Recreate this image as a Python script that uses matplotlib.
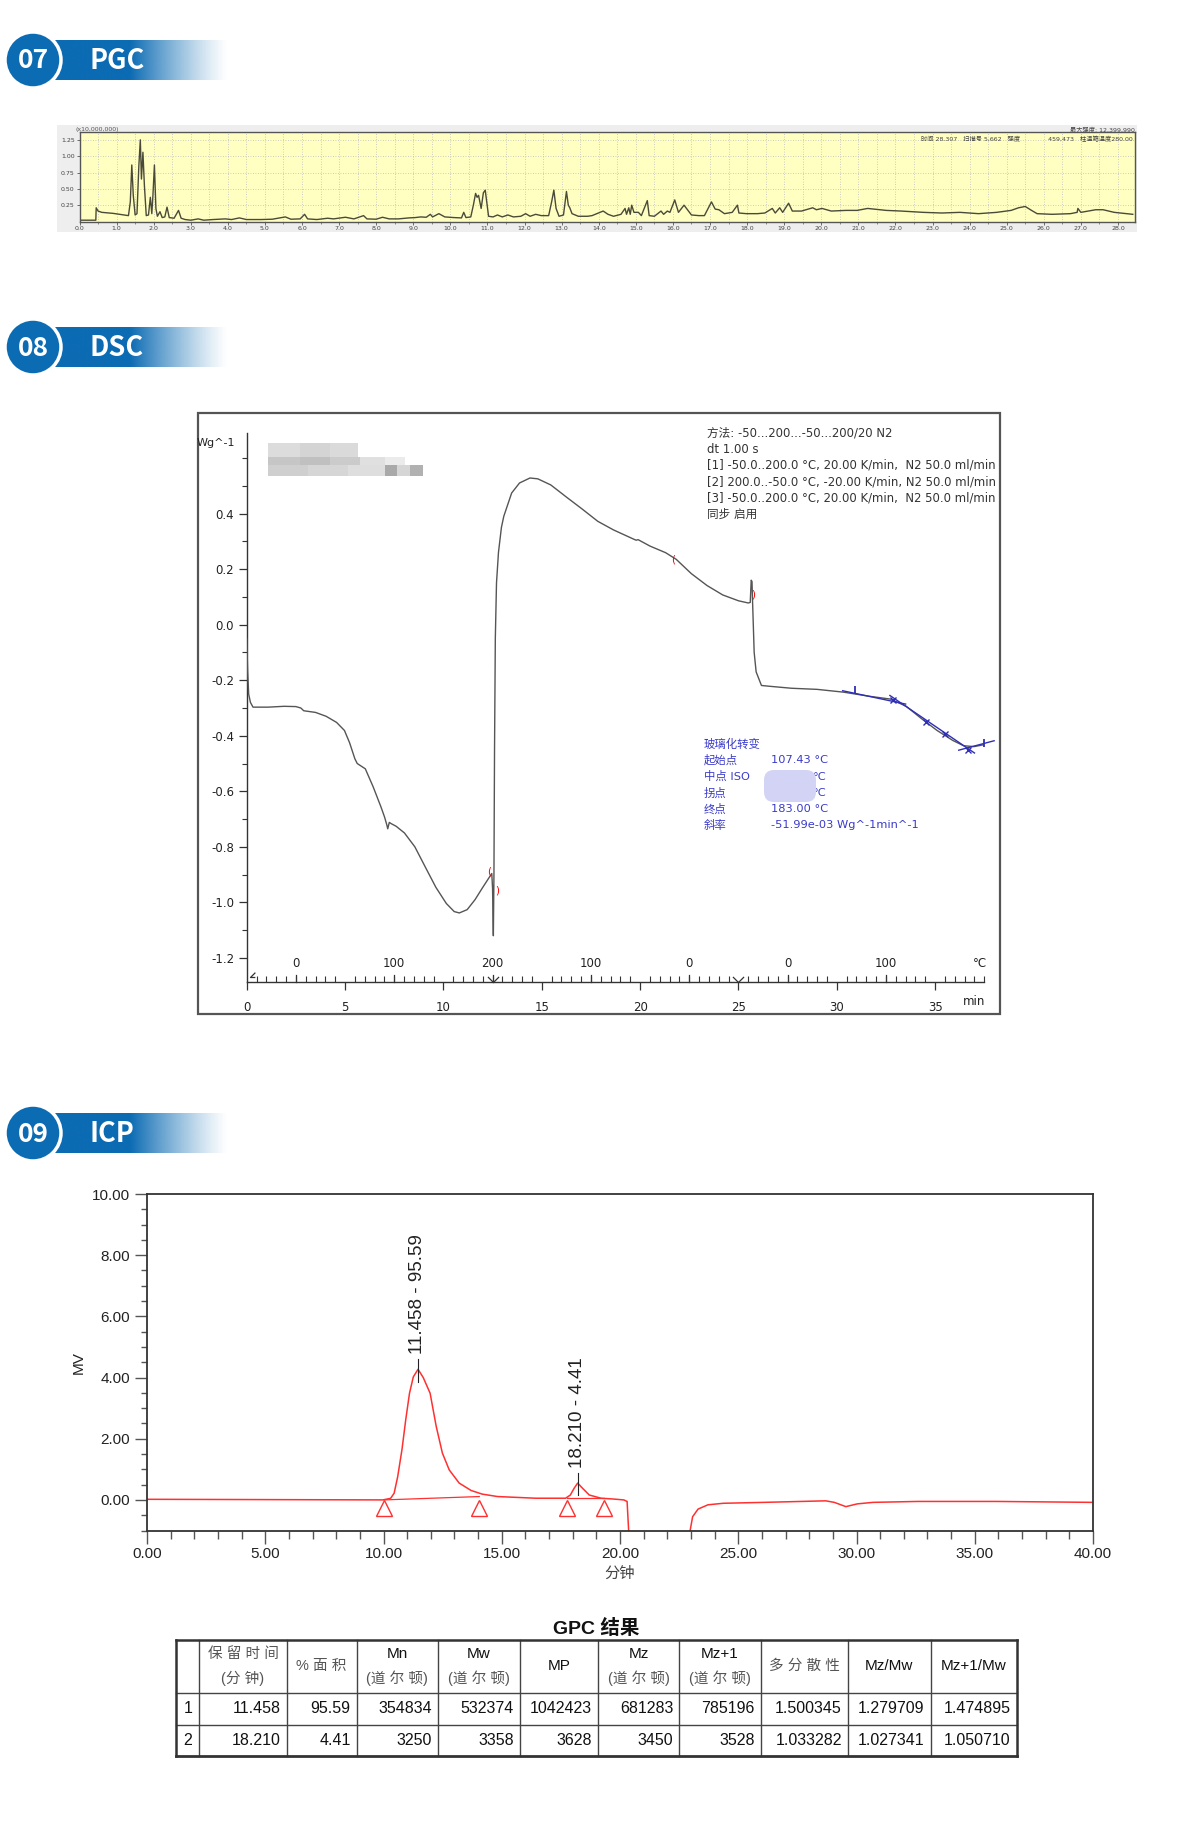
import numpy as np
import matplotlib
matplotlib.use('Agg')
import matplotlib.pyplot as plt
from matplotlib.patches import Rectangle, Circle, FancyBboxPatch
from matplotlib.path import Path
import matplotlib.transforms as mtrans

# ---------------- DATA ----------------
# PGC chromatogram (time min, intensity x10,000,000)
pgc_t = [0.00, 0.44, 0.45, 0.50, 0.60, 0.90, 1.20, 1.32,
         1.37, 1.41, 1.45, 1.50, 1.55, 1.60, 1.64, 1.67, 1.71, 1.75, 1.80, 1.86, 1.91, 1.95, 1.98, 2.02,
         2.06, 2.10, 2.17, 2.23, 2.30, 2.36, 2.42, 2.55, 2.67, 2.74, 2.85, 3.00, 3.20, 3.35, 3.60, 3.93,
         4.10, 4.31, 4.50, 4.90, 5.20, 5.55, 5.70, 5.95, 6.07, 6.15, 6.40, 6.69, 6.85, 7.17, 7.40, 7.66,
         7.75, 8.00, 8.17, 8.35, 8.60, 8.88, 9.05, 9.20, 9.35, 9.46, 9.52, 9.69, 9.85, 10.10, 10.30, 10.36,
         10.42, 10.55, 10.62, 10.68, 10.72, 10.76, 10.83, 10.89, 10.94, 10.98, 11.03, 11.15, 11.27, 11.40,
         11.55, 11.70, 11.90, 12.03, 12.15, 12.30, 12.45, 12.65, 12.73, 12.79, 12.85, 12.93, 13.05, 13.13,
         13.18, 13.22, 13.28, 13.45, 13.70, 13.82, 14.12, 14.25, 14.40, 14.60, 14.71, 14.75, 14.81, 14.85,
         14.89, 14.95, 15.07, 15.15, 15.31, 15.36, 15.50, 15.68, 15.75, 15.85, 15.92, 16.05, 16.15, 16.30,
         16.50, 16.70, 16.85, 17.04, 17.14, 17.24, 17.39, 17.60, 17.74, 17.78, 17.98, 18.28, 18.48, 18.68,
         18.76, 18.88, 18.96, 19.12, 19.22, 19.47, 19.77, 19.87, 20.02, 20.27, 20.67, 20.97, 21.25, 21.75,
         22.15, 22.75, 23.25, 23.74, 24.24, 24.73, 25.12, 25.32, 25.50, 25.67, 25.82, 26.22, 26.72, 26.90,
         26.92, 27.00, 27.40, 27.60, 27.90, 28.40]
pgc_v = [0.02, 0.02, 0.21, 0.16, 0.14, 0.125, 0.10, 0.09,
         0.30, 0.865, 0.40, 0.10, 0.12, 0.85, 1.25, 0.65, 1.06, 0.55, 0.09, 0.10, 0.37, 0.12, 0.40, 0.865,
         0.20, 0.08, 0.15, 0.06, 0.07, 0.22, 0.06, 0.05, 0.17, 0.05, 0.03, 0.02, 0.04, 0.02, 0.03, 0.04,
         0.03, 0.055, 0.03, 0.03, 0.035, 0.07, 0.035, 0.04, 0.11, 0.04, 0.03, 0.05, 0.04, 0.065, 0.04, 0.09,
         0.04, 0.035, 0.065, 0.04, 0.04, 0.055, 0.06, 0.07, 0.065, 0.11, 0.07, 0.12, 0.07, 0.06, 0.055, 0.14,
         0.06, 0.07, 0.25, 0.43, 0.37, 0.40, 0.20, 0.44, 0.48, 0.30, 0.08, 0.07, 0.10, 0.07,
         0.10, 0.07, 0.08, 0.12, 0.08, 0.11, 0.09, 0.09, 0.30, 0.48, 0.20, 0.08, 0.10, 0.46,
         0.25, 0.21, 0.12, 0.08, 0.08, 0.09, 0.16, 0.11, 0.08, 0.11, 0.20, 0.11, 0.21, 0.11,
         0.25, 0.14, 0.14, 0.09, 0.32, 0.09, 0.08, 0.16, 0.11, 0.16, 0.14, 0.33, 0.14, 0.25,
         0.10, 0.09, 0.09, 0.30, 0.19, 0.18, 0.12, 0.14, 0.25, 0.13, 0.12, 0.12, 0.13, 0.20,
         0.13, 0.21, 0.14, 0.28, 0.16, 0.16, 0.21, 0.18, 0.20, 0.16, 0.17, 0.17, 0.20, 0.17,
         0.16, 0.14, 0.13, 0.14, 0.12, 0.14, 0.17, 0.21, 0.23, 0.17, 0.12, 0.11, 0.12, 0.14,
         0.20, 0.14, 0.18, 0.18, 0.14, 0.11]
pgc_yticks = [0.25, 0.50, 0.75, 1.00, 1.25]

# DSC curve (time min, heat flow Wg^-1)
dsc_t = [0.00, 0.05, 0.10, 0.19, 0.32, 1.10, 1.90, 2.50, 2.75, 2.90, 3.50, 4.04, 4.57, 4.97, 5.23, 5.50,
         5.62, 6.03, 6.43, 6.83, 7.01, 7.12, 7.17, 7.25, 7.36, 7.60, 8.02, 8.55, 9.09, 9.62, 10.15, 10.55,
         10.81, 11.21, 11.61, 12.00, 12.33, 12.46, 12.50, 12.54, 12.57, 12.60, 12.64, 12.70, 12.80, 12.95,
         13.07, 13.47, 13.87, 14.40, 14.80, 15.46, 16.26, 17.06, 17.85, 18.65, 19.70, 19.80, 19.90, 20.50,
         21.30, 21.84, 22.60, 23.40, 24.20, 25.00, 25.50, 25.60, 25.65, 25.69, 25.72, 25.80, 25.90, 26.17,
         26.60, 27.70, 29.00, 30.34, 31.67, 32.73, 33.53, 34.30, 35.10, 35.90, 36.45, 36.98, 37.50]
dsc_v = [-0.05, -0.17, -0.25, -0.28, -0.297, -0.297, -0.294, -0.295, -0.30, -0.31, -0.316, -0.33, -0.352,
         -0.381, -0.425, -0.483, -0.50, -0.519, -0.584, -0.657, -0.693, -0.72, -0.735, -0.712, -0.717,
         -0.726, -0.75, -0.80, -0.874, -0.946, -1.004, -1.033, -1.038, -1.026, -0.99, -0.946, -0.91,
         -0.896, -0.95, -1.12, -0.90, -0.45, -0.05, 0.15, 0.26, 0.35, 0.39, 0.474, 0.51, 0.528, 0.525,
         0.503, 0.459, 0.416, 0.372, 0.341, 0.307, 0.304, 0.306, 0.283, 0.259, 0.235, 0.184, 0.141, 0.107,
         0.086, 0.078, 0.08, 0.16, 0.155, 0.08, -0.10, -0.17, -0.219, -0.222, -0.229, -0.233, -0.243,
         -0.258, -0.268, -0.294, -0.338, -0.381, -0.417, -0.436, -0.439, -0.432]
dsc_yticks = [-1.2, -1.0, -0.8, -0.6, -0.4, -0.2, 0.0, 0.2, 0.4]
dsc_xticks = [0, 5, 10, 15, 20, 25, 30, 35]
dsc_temp_t = [2.5, 7.5, 12.5, 17.5, 22.5, 27.5, 32.5]
dsc_temp_lbl = ['0', '100', '200', '100', '0', '0', '100']
dsc_segment_t = [12.5, 25.0]
dsc_red_t = [21.7, 25.74, 12.35, 12.73]
dsc_red_v = [0.235, 0.11, -0.89, -0.958]
dsc_red_s = ['(', ')', '(', ')']
tg_tan_t = [[30.3, 33.5], [32.7, 37.0], [36.2, 38.0]]
tg_tan_v = [[-0.238, -0.286], [-0.255, -0.462], [-0.452, -0.418]]
tg_x_t = [32.86, 34.54, 35.52, 36.66]
tg_x_v = [-0.272, -0.352, -0.393, -0.451]
tg_flag_t = [30.92, 37.5]
tg_flag_v = [-0.236, -0.425]
dsc_method = ["方法: -50...200...-50...200/20 N2", "dt 1.00 s",
              "[1] -50.0..200.0 °C, 20.00 K/min,  N2 50.0 ml/min",
              "[2] 200.0..-50.0 °C, -20.00 K/min, N2 50.0 ml/min",
              "[3] -50.0..200.0 °C, 20.00 K/min,  N2 50.0 ml/min",
              "同步 启用"]
tg_labels = ["玻璃化转变", "起始点", "中点 ISO", "拐点", "终点", "斜率"]
tg_values = ["", "107.43 °C", "°C", "°C", "183.00 °C", "-51.99e-03 Wg^-1min^-1"]

# ICP / GPC chromatogram (min, MV)
icp_t = [0.0, 5.0, 9.97, 10.30, 10.45, 10.60, 10.78, 10.94, 11.10, 11.26, 11.46, 11.68, 11.97, 12.23,
         12.49, 12.78, 13.20, 13.70, 14.17, 14.82, 16.44, 17.70, 17.90, 18.06, 18.21, 18.38, 18.70, 19.20,
         19.70, 20.16, 20.30, 20.40, np.nan, 22.85, 23.07, 23.30, 23.72, 24.37, 26.10, 28.70, 29.06,
         29.55, 30.03, 30.70, 32.60, 35.90, 40.0]
icp_v = [0.02, 0.01, 0.0, 0.05, 0.22, 0.76, 1.64, 2.62, 3.49, 4.02, 4.27, 4.0, 3.49, 2.40,
         1.53, 0.98, 0.55, 0.31, 0.19, 0.11, 0.055, 0.055, 0.16, 0.38, 0.55, 0.41, 0.16, 0.055,
         0.03, 0.0, -0.05, -1.5, np.nan, -1.5, -0.55, -0.30, -0.16, -0.11, -0.08, -0.03, -0.08,
         -0.22, -0.13, -0.08, -0.05, -0.05, -0.08]
icp_base_t = [[10.03, 14.05], [17.77, 19.32]]
icp_base_v = [[0.0, 0.11], [0.05, 0.05]]
icp_tri_t = [10.03, 14.05, 17.77, 19.32]
icp_peak_t = [11.458, 18.210]
icp_peak_top = [4.27, 0.55]
icp_peak_area = [95.59, 4.41]

# GPC result table
gpc_header1 = ["", "保 留 时 间", "% 面 积", "Mn", "Mw", "MP", "Mz", "Mz+1", "多 分 散 性", "Mz/Mw", "Mz+1/Mw"]
gpc_header2 = ["", "(分 钟)", "", "(道 尔 顿)", "(道 尔 顿)", "", "(道 尔 顿)", "(道 尔 顿)", "", "", ""]
gpc_row_id = [1, 2]
gpc_rt = [11.458, 18.210]
gpc_area = [95.59, 4.41]
gpc_mn = [354834, 3250]
gpc_mw = [532374, 3358]
gpc_mp = [1042423, 3628]
gpc_mz = [681283, 3450]
gpc_mz1 = [785196, 3528]
gpc_pd = [1.500345, 1.033282]
gpc_mzmw = [1.279709, 1.027341]
gpc_mz1mw = [1.474895, 1.050710]

# ---------------- FIGURE ----------------
W, H = 1200, 1823
fig = plt.figure(figsize=(12, 18.23), dpi=100, facecolor='white')
bg = fig.add_axes([0, 0, 1, 1])
bg.axis('off')

def px_axes(l, t, r, b, **kw):
    return fig.add_axes([l / W, 1 - b / H, (r - l) / W, (b - t) / H], **kw)

CJK = ['DejaVu Sans', 'Noto Sans CJK SC']
ARIAL = ['Liberation Sans', 'Noto Sans CJK SC']
BLUE = '#0b6bb3'

def header(yc, num, label):
    x0, x1 = 55, 228
    grad = np.ones((1, 300, 4))
    grad[..., :3] = matplotlib.colors.to_rgb(BLUE)
    xs = np.linspace(x0, x1, 300)
    grad[0, :, 3] = np.clip((x1 - xs) / (x1 - 130), 0, 1) ** 1.2
    bg.imshow(grad, extent=(x0, x1, yc + 20, yc - 20), aspect='auto', zorder=1, interpolation='bilinear')
    bg.add_patch(Circle((33, yc), 28, fc=BLUE, ec='white', lw=2.5, zorder=3))
    bg.text(33, yc + 1, num, color='white', fontsize=19, weight='bold', ha='center', va='center',
            family=['Noto Sans CJK SC'], zorder=4)
    bg.text(90, yc + 1, label, color='white', fontsize=19.5, weight='bold', ha='left', va='center',
            family=['Noto Sans CJK SC'], zorder=4)

header(60, '07', 'PGC')
header(347, '08', 'DSC')
header(1133, '09', 'ICP')

# ---------------- PGC ----------------
bg.add_patch(Rectangle((57, 125), 1137 - 57, 232 - 125, fc='#eeeeee', ec='none', zorder=1))
pgc = px_axes(79.5, 132, 1135, 221.5)
pgc.set_facecolor('#ffffc2')
pgc.plot(pgc_t, pgc_v, color='#4a4a3a', lw=1.0)
pgc.set_xlim(0, 28.46)
pgc.set_ylim(0, 1.37)
pgc.set_xticks(np.arange(0, 29, 1.0))
pgc.set_xticklabels([f'{v:.1f}' for v in np.arange(0, 29, 1.0)])
pgc.set_xticks(np.arange(0, 28.46, 0.5), minor=True)
pgc.set_yticks(pgc_yticks)
pgc.set_yticklabels([f'{v:.2f}' for v in pgc_yticks])
pgc.tick_params(axis='both', which='major', labelsize=4.5, labelcolor='#444', length=2, pad=1.5,
                color='#555', width=0.6)
pgc.tick_params(axis='x', which='minor', length=1.2, color='#777')
pgc.grid(which='both', axis='x', ls=(0, (1, 2)), color='#bdbdbd', lw=0.6)
pgc.grid(which='major', axis='y', ls=(0, (1, 2)), color='#bdbdbd', lw=0.6)
for s in pgc.spines.values():
    s.set_color('#555')
    s.set_linewidth(1.0)

# ---------------- DSC ----------------
bg.add_patch(Rectangle((198, 413), 1000 - 198, 1014 - 413, fill=False, ec='#555', lw=1.6, zorder=2))
dsc = px_axes(246.7, 433, 984.3, 981.7)
dsc.patch.set_alpha(0)
dsc.set_xlim(0, 37.5)
dsc.set_ylim(-1.2855, 0.69)
for s in ['top', 'right']:
    dsc.spines[s].set_visible(False)
for s in ['left', 'bottom']:
    dsc.spines[s].set_color('#333')
    dsc.spines[s].set_linewidth(1.0)
dsc.plot(dsc_t, dsc_v, color='#555555', lw=1.0, zorder=3)
for tt, vv in zip(tg_tan_t, tg_tan_v):
    dsc.plot(tt, vv, color='#2f2fb5', lw=1.0, clip_on=False, zorder=4)
dsc.plot(tg_x_t, tg_x_v, ls='none', marker='x', ms=5, mew=1.0, color='#2f2fb5', zorder=5)
dsc.plot(tg_flag_t, tg_flag_v, ls='none', marker='|', ms=6, mew=1.3, color='#2f2fb5', zorder=5,
         clip_on=False)
for tt, vv, ss in zip(dsc_red_t, dsc_red_v, dsc_red_s):
    dsc.text(tt, vv, ss, color='red', fontsize=7.5, ha='center', va='center', zorder=6)
dsc.set_yticks(dsc_yticks)
dsc.set_yticklabels([f'{v:.1f}' for v in dsc_yticks])
dsc.set_yticks(np.arange(-1.2, 0.65, 0.1), minor=True)
dsc.tick_params(axis='y', which='major', direction='out', length=6, width=0.9, pad=3,
                labelsize=8.5, labelcolor='#222', color='#333')
dsc.tick_params(axis='y', which='minor', direction='out', length=3.5, width=0.8, color='#333')
dsc.set_xticks(dsc_xticks)
dsc.set_xticklabels([str(v) for v in dsc_xticks])
dsc.set_xticks(np.arange(0, 37.6, 0.5), minor=True)
dsc.tick_params(axis='x', which='major', direction='out', length=6, width=0.9, pad=8,
                labelsize=8.5, labelcolor='#222', color='#333')
dsc.tick_params(axis='x', which='minor', direction='in', length=4, width=0.8, color='#333')
bt = mtrans.blended_transform_factory(dsc.transData, dsc.transAxes)
for tt, lb in zip(dsc_temp_t, dsc_temp_lbl):
    dsc.plot([tt, tt], [0, 0.013], transform=bt, color='#333', lw=0.9, clip_on=False)
    dsc.annotate(lb, xy=(tt, 0), xycoords=bt, xytext=(0, 13), textcoords='offset points',
                 ha='center', va='center', fontsize=8.5, color='#222')
dsc.annotate('°C', xy=(37.3, 0), xycoords=bt, xytext=(0, 13), textcoords='offset points',
             ha='center', va='center', fontsize=8.5, color='#222')
dsc.annotate('min', xy=(37.0, 0), xycoords=bt, xytext=(0, -14.5), textcoords='offset points',
             ha='center', va='center', fontsize=8.5, color='#222')
vpath = Path([(-1, 1), (0, 0), (1, 1)], [Path.MOVETO, Path.LINETO, Path.LINETO])
dsc.plot(dsc_segment_t, [0, 0], transform=bt, ls='none', marker=vpath, ms=8, mfc='none',
         mec='#333', mew=0.9, clip_on=False)
cpath = Path([(1, 1), (0, 0), (1, 0)], [Path.MOVETO, Path.LINETO, Path.LINETO])
dsc.plot([0.15], [0.008], transform=bt, ls='none', marker=cpath, ms=7, mfc='none',
         mec='#333', mew=0.9, clip_on=False)

# ---------------- ICP ----------------
icp = px_axes(147, 1194, 1093, 1530.5)
icp.set_xlim(0, 40)
icp.set_ylim(-1, 10)
RED = '#ff3030'
icp.plot(icp_t, icp_v, color=RED, lw=1.1)
for bt_, bv_ in zip(icp_base_t, icp_base_v):
    icp.plot(bt_, bv_, color=RED, lw=0.9)
icp.plot(icp_tri_t, [-0.26] * len(icp_tri_t), ls='none', marker='^', ms=11, mfc='none',
         mec=RED, mew=1.0, clip_on=False)
for pt, top, ar in zip(icp_peak_t, icp_peak_top, icp_peak_area):
    icp.plot([pt, pt], [top - 0.4, top + 0.33], color='#222', lw=0.8)
    icp.text(pt, top + 0.5, f'{pt:.3f} - {ar:.2f}', rotation=90, ha='center', va='bottom',
             fontsize=13.5, family=ARIAL, color='#222')
xt = np.arange(0, 41, 5)
icp.set_xticks(xt)
icp.set_xticklabels([f'{v:.2f}' for v in xt])
icp.set_xticks(np.arange(0, 41, 1), minor=True)
yt = np.arange(0, 11, 2)
icp.set_yticks(yt)
icp.set_yticklabels([f'{v:.2f}' for v in yt])
icp.set_yticks(np.arange(-1, 10.1, 0.5), minor=True)
icp.tick_params(axis='both', which='major', direction='out', length=9, width=1.0, color='#555',
                labelsize=11, labelcolor='#222', pad=3)
icp.tick_params(axis='x', which='minor', direction='out', length=6, width=1.0, color='#555')
icp.tick_params(axis='y', which='minor', direction='out', length=4, width=1.0, color='#555')
for lab in icp.get_xticklabels() + icp.get_yticklabels():
    lab.set_family(ARIAL)
for s in icp.spines.values():
    s.set_color('#333')
    s.set_linewidth(1.3)

# ---------------- OVERLAY ----------------
fg = fig.add_axes([0, 0, 1, 1], zorder=20)
fg.patch.set_alpha(0)
fg.axis('off')

# PGC texts
fg.text(76, 129, '(x10,000,000)', fontsize=4.5, color='#555', va='center', ha='left', family=CJK)
fg.text(1135, 129, '最大强度: 12,399,990', fontsize=4.5, color='#444', va='center', ha='right', family=CJK)
fg.text(1133, 139, '时间 28.307   扫描号 5,662   强度              459,473   柱温箱温度280.00',
        fontsize=4.5, color='#444', va='center', ha='right', family=CJK)

# DSC texts
fg.text(197, 443, 'Wg^-1', fontsize=8, color='#222', va='center', ha='left', family=CJK)
clip_box = Rectangle((198, 413), 802, 601, transform=fg.transData, visible=False)
fg.add_patch(clip_box)
for i, line in enumerate(dsc_method):
    t = fg.text(707, 433 + i * 16.2, line, fontsize=8.4, color='#333', va='center', ha='left',
                family=CJK)
    t.set_clip_path(clip_box)
TGB = '#3a3acb'
for i, (lb, vl) in enumerate(zip(tg_labels, tg_values)):
    y = 744 + i * 16.3
    fg.text(704, y, lb, fontsize=8.2, color=TGB, va='center', ha='left', family=CJK)
    if vl:
        xv = 771 if vl != '°C' else 813
        fg.text(xv, y, vl, fontsize=8.2, color=TGB, va='center', ha='left', family=CJK)
fg.add_patch(FancyBboxPatch((766, 772), 48, 28, boxstyle='round,pad=2,rounding_size=10',
                            fc='#d3d3f6', ec='none', zorder=5))
# blurred grey patch (top-left of DSC)
mosaic = [(268, 443, 32, 14, '#dcdcdc'), (300, 443, 30, 14, '#d4d4d4'), (330, 443, 28, 14, '#dadada'),
          (268, 457, 32, 8, '#c6c6c6'), (300, 457, 30, 8, '#c0c0c0'), (330, 457, 30, 8, '#cbcbcb'),
          (360, 457, 25, 8, '#e0e0e0'), (385, 457, 20, 8, '#ebebeb'),
          (268, 465, 40, 11, '#cfcfcf'), (308, 465, 40, 11, '#d6d6d6'), (348, 465, 37, 11, '#dedede'),
          (385, 465, 12, 11, '#a9a9a9'), (397, 465, 13, 11, '#d6d6d6'), (410, 465, 13, 11, '#b1b1b1')]
for (mx, my, mw, mh, mc) in mosaic:
    fg.add_patch(Rectangle((mx, my), mw, mh, fc=mc, ec='none'))

# ICP axis labels
fg.text(79, 1363, 'MV', rotation=90, fontsize=11, color='#222', ha='center', va='center', family=ARIAL)
fg.text(620, 1573, '分钟', fontsize=11, color='#444', ha='center', va='center', family=['Noto Sans CJK SC'])

# GPC table
fg.text(596.6, 1628, 'GPC 结果', fontsize=14, weight='bold', color='#111', ha='center', va='center', family=ARIAL)
col_x = [176.4, 199.4, 286.6, 356.6, 438.1, 519.7, 597.7, 679.2, 760.7, 848.0, 930.6, 1016.7]
row_y = [1640, 1692.5, 1725, 1756]
for x in col_x[1:-1]:
    fg.plot([x, x], [row_y[0], row_y[-1]], color='#444', lw=1.0)
for y in row_y[1:-1]:
    fg.plot([col_x[0], col_x[-1]], [y, y], color='#444', lw=1.0)
fg.plot([col_x[0], col_x[-1]], [row_y[0], row_y[0]], color='#333', lw=1.8)
fg.plot([col_x[0], col_x[-1]], [row_y[-1], row_y[-1]], color='#333', lw=2.0)
fg.plot([col_x[0], col_x[0]], [row_y[0], row_y[-1]], color='#333', lw=1.8)
fg.plot([col_x[-1], col_x[-1]], [row_y[0], row_y[-1]], color='#333', lw=1.8)

def is_cjk(s):
    return any(ord(c) > 0x2e80 for c in s)

for j in range(1, 11):
    xc = (col_x[j] + col_x[j + 1]) / 2
    h1, h2 = gpc_header1[j], gpc_header2[j]
    if h2:
        ys = [(h1, 1654), (h2, 1678)]
    else:
        ys = [(h1, 1666)]
    for txt, yy in ys:
        cj = is_cjk(txt)
        fg.text(xc, yy, txt, fontsize=10.5 if cj else 11, color='#555' if cj else '#111',
                ha='center', va='center', family=ARIAL)

cols = [(gpc_rt, '{:.3f}'), (gpc_area, '{:.2f}'), (gpc_mn, '{:d}'), (gpc_mw, '{:d}'),
        (gpc_mp, '{:d}'), (gpc_mz, '{:d}'), (gpc_mz1, '{:d}'), (gpc_pd, '{:.6f}'),
        (gpc_mzmw, '{:.6f}'), (gpc_mz1mw, '{:.6f}')]
for i, rid in enumerate(gpc_row_id):
    yy = (row_y[i + 1] + row_y[i + 2]) / 2
    fg.text((col_x[0] + col_x[1]) / 2, yy, str(rid), fontsize=11.5, color='#111',
            ha='center', va='center', family=ARIAL)
    for j, (vals, fmt) in enumerate(cols):
        fg.text(col_x[j + 2] - 6, yy, fmt.format(vals[i]), fontsize=11.5, color='#111',
                ha='right', va='center', family=ARIAL)

for a in (bg, fg):
    a.set_xlim(0, W)
    a.set_ylim(H, 0)

fig.savefig('out.png', dpi=100, facecolor='white')
